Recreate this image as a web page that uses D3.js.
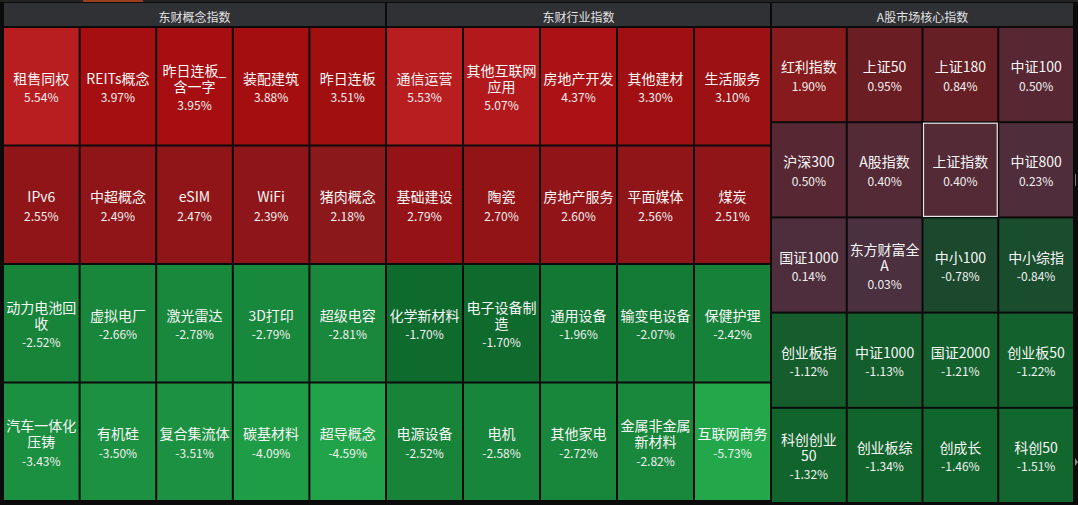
<!DOCTYPE html>
<html>
<head>
<meta charset="utf-8">
<script src="https://cdn.jsdelivr.net/npm/d3@7"></script>
<style>
  html, body { margin: 0; padding: 0; background: #0b0b0b; }
  svg { display: block; }
  text { font-family: "Microsoft YaHei", "Noto Sans CJK SC", "Noto Sans", sans-serif; }
</style>
</head>
<body>
<svg id="chart" width="1078" height="505"></svg>
<script>
// ---------- data ----------
const panelTitles = ["东财概念指数", "东财行业指数", "A股市场核心指数"];

const conceptNames = ["租售同权","REITs概念","昨日连板_含一字","装配建筑","昨日连板",
  "IPv6","中超概念","eSIM","WiFi","猪肉概念",
  "动力电池回收","虚拟电厂","激光雷达","3D打印","超级电容",
  "汽车一体化压铸","有机硅","复合集流体","碳基材料","超导概念"];
const conceptValues = [5.54,3.97,3.95,3.88,3.51,
  2.55,2.49,2.47,2.39,2.18,
  -2.52,-2.66,-2.78,-2.79,-2.81,
  -3.43,-3.50,-3.51,-4.09,-4.59];

const industryNames = ["通信运营","其他互联网应用","房地产开发","其他建材","生活服务",
  "基础建设","陶瓷","房地产服务","平面媒体","煤炭",
  "化学新材料","电子设备制造","通用设备","输变电设备","保健护理",
  "电源设备","电机","其他家电","金属非金属新材料","互联网商务"];
const industryValues = [5.53,5.07,4.37,3.30,3.10,
  2.79,2.70,2.60,2.56,2.51,
  -1.70,-1.70,-1.96,-2.07,-2.42,
  -2.52,-2.58,-2.72,-2.82,-5.73];

const coreNames = ["红利指数","上证50","上证180","中证100",
  "沪深300","A股指数","上证指数","中证800",
  "国证1000","东方财富全A","中小100","中小综指",
  "创业板指","中证1000","国证2000","创业板50",
  "科创创业50","创业板综","创成长","科创50"];
const coreValues = [1.90,0.95,0.84,0.50,
  0.50,0.40,0.40,0.23,
  0.14,0.03,-0.78,-0.84,
  -1.12,-1.13,-1.21,-1.22,
  -1.32,-1.34,-1.46,-1.51];

const selectedName = "上证指数";

// ---------- colour scale ----------
const color = d3.scaleLinear()
  .domain([-5.73, -4.5, -3.5, -2.5, -2.0, -1.7, -1.2, -0.8, 0, 0.5, 0.9, 1.9, 2.5, 3.3, 3.9, 5.5])
  .range(["#22a84b","#21a449","#1c9141","#17843a","#137a35","#0f6a2e","#13622d","#1b4a2e",
          "#4a3140","#572833","#681d23","#871a1c","#8f1519","#a00f11","#a50e10","#b81d20"])
  .clamp(true);

// ---------- layout ----------
const svg = d3.select("#chart");
const W = 1078, H = 505;

// top tab strip decoration
svg.append("rect").attr("x", 0).attr("y", 0).attr("width", W).attr("height", 2).attr("fill", "#222");
svg.append("rect").attr("x", 83).attr("y", 0).attr("width", 60).attr("height", 2).attr("fill", "#9a3f1e");

const panels = [
  { title: panelTitles[0], names: conceptNames, values: conceptValues, cols: 5, x0: 3, x1: 386, y1: 501 },
  { title: panelTitles[1], names: industryNames, values: industryValues, cols: 5, x0: 386, x1: 771, y1: 501 },
  { title: panelTitles[2], names: coreNames, values: coreValues, cols: 4, x0: 771, x1: 1074, y1: 503 }
];

const headerTop = 3, headerBottom = 27;

// measurement helper for wrapping (keeps latin/digit runs together)
const measure = svg.append("text").attr("font-size", 14).attr("visibility", "hidden");
function textWidth(s) { measure.text(s); return measure.node().getComputedTextLength(); }
function wrap(name, maxW) {
  const tokens = name.match(/[A-Za-z0-9.]+|./gu) || [];
  const lines = [];
  let cur = "";
  for (const tk of tokens) {
    if (cur && textWidth(cur + tk) > maxW) { lines.push(cur); cur = tk; }
    else cur += tk;
  }
  if (cur) lines.push(cur);
  return lines;
}

panels.forEach(p => {
  const rows = Math.ceil(p.names.length / p.cols);
  const xs = d3.scaleBand().domain(d3.range(p.cols)).range([p.x0, p.x1]);
  const ys = d3.scaleBand().domain(d3.range(rows)).range([headerBottom, p.y1]);

  // header
  svg.append("rect")
    .attr("x", p.x0 + 1).attr("y", headerTop)
    .attr("width", p.x1 - p.x0 - 2).attr("height", headerBottom - headerTop - 1)
    .attr("fill", "#303135");
  svg.append("text")
    .attr("x", (p.x0 + p.x1) / 2).attr("y", (headerTop + headerBottom) / 2 + 1)
    .attr("text-anchor", "middle").attr("dominant-baseline", "central")
    .attr("font-size", 12).attr("fill", "#e2e2e2")
    .text(p.title);

  const data = p.names.map((n, i) => ({ name: n, value: p.values[i], col: i % p.cols, row: Math.floor(i / p.cols) }));

  const g = svg.append("g");
  const cells = g.selectAll("g.cell").data(data).join("g").attr("class", "cell");

  cells.append("rect")
    .attr("x", d => xs(d.col) + 1)
    .attr("y", d => ys(d.row) + 1)
    .attr("width", xs.bandwidth() - 2)
    .attr("height", ys.bandwidth() - 2)
    .attr("fill", d => color(d.value))
    .attr("stroke", d => d.name === selectedName ? "#e8e8e8" : "none")
    .attr("stroke-width", 1.2);

  cells.each(function(d) {
    const cell = d3.select(this);
    const cx = xs(d.col) + xs.bandwidth() / 2;
    const cy = ys(d.row) + ys.bandwidth() / 2;
    const lines = wrap(d.name, 71);
    const lineH = 16, pctGap = 19;
    const block = (lines.length - 1) * lineH + pctGap;
    const first = cy - block / 2 + 1;
    const nameText = cell.append("text")
      .attr("text-anchor", "middle")
      .attr("font-size", 14).attr("fill", "#f6f6f6");
    lines.forEach((ln, i) => {
      nameText.append("tspan")
        .attr("x", cx).attr("y", first + i * lineH)
        .attr("dominant-baseline", "central")
        .text(ln);
    });
    cell.append("text")
      .attr("x", cx).attr("y", first + (lines.length - 1) * lineH + pctGap)
      .attr("text-anchor", "middle").attr("dominant-baseline", "central")
      .attr("font-size", 12).attr("fill", "#f0f0f0")
      .text(d.value.toFixed(2) + "%");
  });
});

measure.remove();

// right-edge small decorations (scroll grip / arrow)
svg.append("rect").attr("x", 1075).attr("y", 174).attr("width", 1).attr("height", 12).attr("fill", "#777");
svg.append("path").attr("d", "M1075,458 L1078,462 L1075,466 Z").attr("fill", "#888");
</script>
</body>
</html>
